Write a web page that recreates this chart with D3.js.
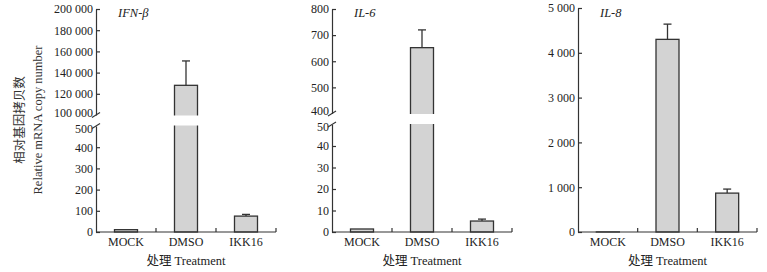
<!DOCTYPE html>
<html>
<head>
<meta charset="utf-8">
<script src="https://cdn.jsdelivr.net/npm/d3@7"></script>
<style>
  body { margin: 0; background: #fff; }
  svg { display: block; font-family: "Liberation Serif", "Times New Roman", serif; }
</style>
</head>
<body>
<div id="chart"></div>
<script>
const categories = ["MOCK", "DMSO", "IKK16"];

// IFN-beta
const ifnMean = [11, 128000, 75];
const ifnSd = [0, 23000, 8];
// IL-6
const il6Mean = [1.4, 652, 5.1];
const il6Sd = [0, 68, 0.9];
// IL-8
const il8Mean = [2, 4300, 868];
const il8Sd = [0, 340, 90];

const ifnLowTicks = [0, 100, 200, 300, 400, 500];
const ifnHighTicks = [100000, 120000, 140000, 160000, 180000, 200000];
const il6LowTicks = [0, 10, 20, 30, 40, 50];
const il6HighTicks = [400, 500, 600, 700, 800];
const il8Ticks = [0, 1000, 2000, 3000, 4000, 5000];

const width = 767, height = 272;
const fmt = d3.formatLocale({ decimal: ".", thousands: "\u2009", grouping: [3], currency: ["", ""] }).format(",");
const fmtSp = v => fmt(v).replace(/\u2009/g, " ");

const svg = d3.select("#chart").append("svg")
  .attr("width", width)
  .attr("height", height);

const ink = "#333";
const barFill = "#d3d3d3";

let panels = [
  { title: "IFN-β", left: 96, right: 276, mean: ifnMean, sd: ifnSd,
    low: [0, 500], lowPx: [232, 126], lowTicks: ifnLowTicks,
    high: [100000, 200000], highPx: [115, 9], highTicks: ifnHighTicks },
  { title: "IL-6", left: 332, right: 512, mean: il6Mean, sd: il6Sd,
    low: [0, 50], lowPx: [232, 124.5], lowTicks: il6LowTicks,
    high: [400, 800], highPx: [113.5, 9], highTicks: il6HighTicks },
  { title: "IL-8", left: 578, right: 757, mean: il8Mean, sd: il8Sd,
    low: [0, 5000], lowPx: [232, 8], lowTicks: il8Ticks }
];

// shared y title
const yt = svg.append("text")
  .attr("transform", "translate(24,120) rotate(-90)")
  .attr("text-anchor", "middle")
  .attr("fill", ink);
yt.append("tspan").attr("x", 0).attr("dy", 0)
  .style("font-family", "'Noto Sans CJK SC'").style("font-size", "12.5px")
  .text("相对基因拷贝数");
yt.append("tspan").attr("x", 0).attr("dy", 18)
  .style("font-size", "12.5px")
  .text("Relative mRNA copy number");

for (let p of panels) {
  const g = svg.append("g");

  const x = d3.scaleBand().domain(categories).range([p.left, p.right]).paddingInner(0).paddingOuter(0);
  const yLow = d3.scaleLinear().domain(p.low).range(p.lowPx);
  const yHigh = p.high ? d3.scaleLinear().domain(p.high).range(p.highPx) : null;
  const y = v => (yHigh && v > p.low[1]) ? yHigh(v) : yLow(v);
  const bw = 23;

  // bars
  g.selectAll("rect.bar")
    .data(categories)
    .join("rect")
    .attr("class", "bar")
    .attr("x", (d) => x(d) + x.bandwidth() / 2 - bw / 2)
    .attr("width", bw)
    .attr("y", (d, i) => y(p.mean[i]))
    .attr("height", (d, i) => yLow(0) - y(p.mean[i]))
    .attr("fill", barFill)
    .attr("stroke", ink)
    .attr("stroke-width", 1.3);

  // error bars (upper only)
  const eb = g.selectAll("g.err")
    .data(categories.filter((d, i) => p.sd[i] > 0))
    .join("g")
    .attr("stroke", ink)
    .attr("stroke-width", 1.3);
  eb.append("line")
    .attr("x1", d => x(d) + x.bandwidth() / 2)
    .attr("x2", d => x(d) + x.bandwidth() / 2)
    .attr("y1", d => y(p.mean[categories.indexOf(d)]))
    .attr("y2", d => { let i = categories.indexOf(d); return y(p.mean[i] + p.sd[i]); });
  eb.append("line")
    .attr("x1", d => x(d) + x.bandwidth() / 2 - 4)
    .attr("x2", d => x(d) + x.bandwidth() / 2 + 4)
    .attr("y1", d => { let i = categories.indexOf(d); return y(p.mean[i] + p.sd[i]); })
    .attr("y2", d => { let i = categories.indexOf(d); return y(p.mean[i] + p.sd[i]); });

  // break gap through tall bars
  if (yHigh) {
    g.selectAll("rect.gap")
      .data(categories.filter((d, i) => p.mean[i] > p.low[1]))
      .join("rect")
      .attr("x", d => x(d) + x.bandwidth() / 2 - bw / 2 - 2)
      .attr("width", bw + 4)
      .attr("y", yHigh(p.high[0]) + 0.5)
      .attr("height", yLow(p.low[1]) - yHigh(p.high[0]) - 1)
      .attr("fill", "#fff");
  }

  // y axes
  const styleAxis = sel => {
    sel.selectAll(".domain").attr("stroke", ink).attr("stroke-width", 1.2);
    sel.selectAll(".tick line").attr("stroke", ink).attr("stroke-width", 1.2);
    sel.selectAll(".tick text").attr("fill", "#222").style("font-size", "12px")
      .style("font-family", "'Liberation Serif', serif");
  };

  const lowAxis = g.append("g")
    .attr("transform", `translate(${p.left},0)`)
    .call(d3.axisLeft(yLow).tickValues(p.lowTicks).tickFormat(fmtSp)
      .tickSizeInner(-4).tickSizeOuter(0).tickPadding(3));
  styleAxis(lowAxis);

  if (yHigh) {
    const highAxis = g.append("g")
      .attr("transform", `translate(${p.left},0)`)
      .call(d3.axisLeft(yHigh).tickValues(p.highTicks).tickFormat(fmtSp)
        .tickSizeInner(-4).tickSizeOuter(0).tickPadding(3));
    styleAxis(highAxis);
    // break ticks become slashes; nudge the two labels apart
    const hb = highAxis.selectAll(".tick").filter(d => d === p.high[0]);
    hb.select("line").remove();
    hb.select("text").attr("dy", "0.1em");
    const lb = lowAxis.selectAll(".tick").filter(d => d === p.low[1]);
    lb.select("line").remove();
    lb.select("text").attr("dy", "0.5em");
    for (let yy of [yHigh(p.high[0]), yLow(p.low[1])]) {
      g.append("line")
        .attr("x1", p.left - 4).attr("x2", p.left + 4)
        .attr("y1", yy + 2.5).attr("y2", yy - 2.5)
        .attr("stroke", ink).attr("stroke-width", 1.1);
    }
  }

  // x axis
  g.append("line")
    .attr("x1", p.left).attr("x2", p.right)
    .attr("y1", yLow(0)).attr("y2", yLow(0))
    .attr("stroke", ink).attr("stroke-width", 1.2);
  g.selectAll("line.xt")
    .data(categories)
    .join("line")
    .attr("class", "xt")
    .attr("x1", d => x(d) + x.bandwidth())
    .attr("x2", d => x(d) + x.bandwidth())
    .attr("y1", yLow(0)).attr("y2", yLow(0) - 4)
    .attr("stroke", ink).attr("stroke-width", 1.2);
  g.selectAll("text.xl")
    .data(categories)
    .join("text")
    .attr("class", "xl")
    .attr("x", d => x(d) + x.bandwidth() / 2)
    .attr("y", yLow(0) + 14)
    .attr("text-anchor", "middle")
    .attr("fill", "#222")
    .style("font-size", "12px")
    .text(d => d);

  // x title
  const xt = g.append("text")
    .attr("x", (p.left + p.right) / 2)
    .attr("y", 265)
    .attr("text-anchor", "middle")
    .attr("fill", "#222")
    .style("font-size", "12.5px");
  xt.append("tspan").style("font-family", "'Noto Sans CJK SC'").text("处理");
  xt.append("tspan").text(" Treatment");

  // panel title
  g.append("text")
    .attr("x", p.left + 22)
    .attr("y", 17)
    .attr("fill", "#222")
    .style("font-size", "12.5px")
    .style("font-style", "italic")
    .text(p.title);
}
</script>
</body>
</html>
